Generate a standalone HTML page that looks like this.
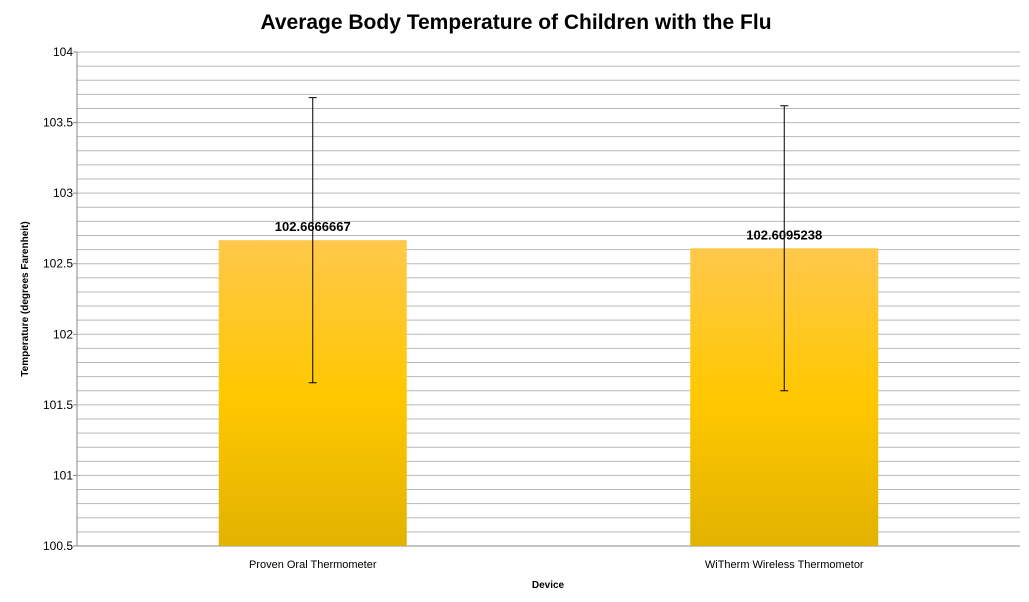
<!DOCTYPE html>
<html><head><meta charset="utf-8"><style>
body{margin:0;background:#fff;}
svg text{font-family:"Liberation Sans",sans-serif;}
</style></head><body>
<svg id="chart" width="1029" height="597">
<defs><linearGradient id="g" x1="0" y1="0" x2="0" y2="1">
<stop offset="0" stop-color="#FFC84B"/><stop offset="0.5" stop-color="#FFC800"/><stop offset="1" stop-color="#E2B200"/></linearGradient></defs>
<text x="516" y="29" text-anchor="middle" font-size="21" font-weight="bold" fill="#000">Average Body Temperature of Children with the Flu</text>
<text transform="translate(28,299) rotate(-90)" text-anchor="middle" font-size="10" font-weight="bold">Temperature (degrees Farenheit)</text>
<text x="548" y="588" text-anchor="middle" font-size="10" font-weight="bold">Device</text>
<g id="grid"></g><g id="bars"></g>
</svg>
<script>
const categories=["Proven Oral Thermometer","WiTherm Wireless Thermometor"];
const values=[102.6666667,102.6095238];
const errors=[1.01,1.01];
const valueLabels=["102.6666667","102.6095238"];
const yTicks=[100.5,101,101.5,102,102.5,103,103.5,104];
const L=77,R=1020,T=52,B=546,yMin=100.5,yMax=104;
const ns="http://www.w3.org/2000/svg";
const y=v=>B-(v-yMin)/(yMax-yMin)*(B-T);
const bw=(R-L)/categories.length;
const xc=i=>L+bw*(i+0.5);
function mk(t,a,p){const e=document.createElementNS(ns,t);for(const k in a)e.setAttribute(k,a[k]);p.appendChild(e);return e;}
const grid=document.getElementById('grid'),bars=document.getElementById('bars');
for(let k=0;k<=Math.round((yMax-yMin)*10);k++){
 const v=yMin+k*0.1;
 const ln=mk('line',{x1:L,x2:R,y1:y(v),y2:y(v),stroke:'#b8b8b8','stroke-width':1},grid);
 
 
}
yTicks.forEach(v=>{
 const t=mk('text',{x:L-4,y:y(v)+4,'text-anchor':'end','font-size':12,fill:'#000'},grid);
 t.textContent=String(v);
 
 
 mk('line',{x1:L-4,x2:L,y1:y(v),y2:y(v),stroke:'#888'},grid);
});
mk('line',{x1:L,x2:L,y1:T,y2:B,stroke:'#888'},grid);
mk('line',{x1:L,x2:R,y1:B,y2:B,stroke:'#888'},grid);
categories.forEach((c,i)=>{
 const w=188,cx=xc(i);
 const r=mk('rect',{x:cx-w/2,y:y(values[i]),width:w,height:B-y(values[i]),fill:'url(#g)'},bars);
 
 
 const hi=y(values[i]+errors[i]),lo=y(values[i]-errors[i]);
 const e=mk('path',{d:`M${cx},${hi}V${lo}M${cx-4},${hi}H${cx+4}M${cx-4},${lo}H${cx+4}`,stroke:'#000','stroke-width':1,fill:'none'},bars);
 
 
 const vl=mk('text',{x:cx,y:y(values[i])-9,'text-anchor':'middle','font-size':13,'font-weight':'bold'},bars);
 vl.textContent=valueLabels[i];
 
 
 const xl=mk('text',{x:cx,y:568,'text-anchor':'middle','font-size':11},bars);
 xl.textContent=c;
 
 
});
</script>
</body></html>
